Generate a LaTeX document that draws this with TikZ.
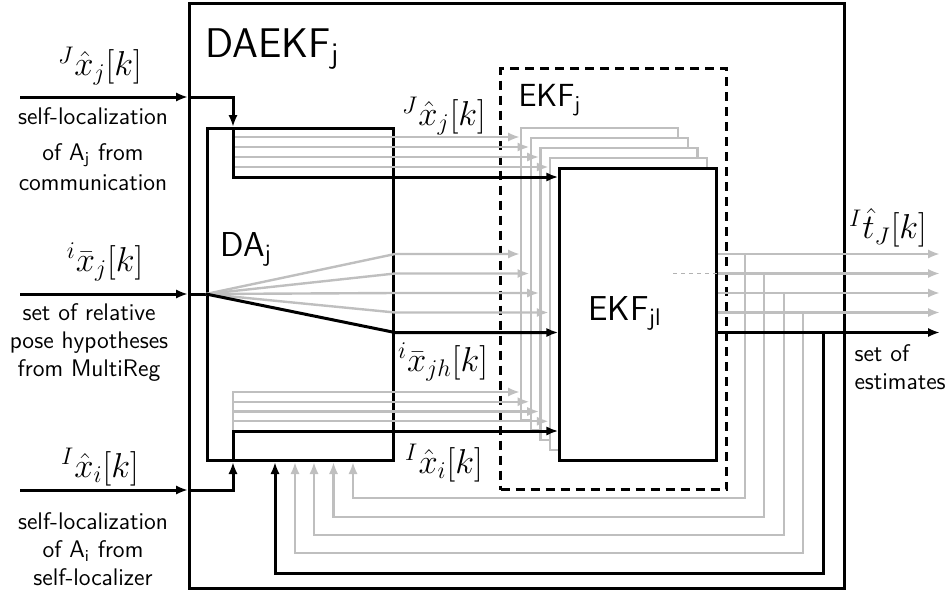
\documentclass[tikz,border=0pt]{standalone}
\usepackage{amsmath}
\usetikzlibrary{positioning, arrows.meta}
\begin{document}
\begin{tikzpicture}[>={Latex[length=6pt, width=4.6pt]}, x=0.5pt, y=-0.5pt, line width=1.5pt,
  blk/.style={draw, inner sep=0pt, anchor=north west},
  grey/.style={draw=black!25, line width=1.2pt},
  sig/.style={font=\LARGE, inner sep=0pt},
  txt/.style={font=\sffamily\large, align=center, inner sep=0pt}]
\useasboundingbox (0,0) rectangle (952,594);
% Kaesten: DAEKF_j, DA_j, EKF_j (gestrichelt), Stapel EKF_jl
\node[blk, minimum width=327.5pt, minimum height=292.5pt] (daekf) at (188,2) {};
\node[blk, minimum width=93pt, minimum height=166pt] (da) at (206,127) {};
\node[blk, dash pattern=on 4.5pt off 3pt, minimum width=113pt, minimum height=210.5pt] (ekfj) at (499,67) {};
\foreach \k in {0,...,3}
  \node[blk, grey, fill=white, minimum width=78.5pt, minimum height=146pt] (ekf\k) at ({520+9.6*\k},{127+10*\k}) {};
\node[blk, fill=white, minimum width=78.5pt, minimum height=146pt] (ekfjl) at (558.4,167) {};
\draw[black!30, line width=0.3pt, dash pattern=on 2pt off 2pt] (673,273) -- (ekfjl.east |- 0,273);
% Titel
\node[font=\sffamily\huge, anchor=base west, inner sep=0pt] (tdaekf) at (204,57) {DAEKF$_\mathsf{j}$};
\node[font=\sffamily\LARGE, anchor=base west, inner sep=0pt] (tda) at (219,256) {DA$_\mathsf{j}$};
\node[font=\sffamily\fontsize{16}{19}\selectfont, anchor=base west, inner sep=0pt] (tekfj) at (517,106) {EKF$_\mathsf{j}$};
\node[font=\sffamily\LARGE, anchor=base west, inner sep=0pt] (tekfjl) at (587,320) {EKF$_\mathsf{jl}$};
% Eingaenge
\coordinate (inJ) at (20,97);
\coordinate (inH) at (20,294);
\coordinate (inI) at (20,490);
\coordinate (tapJ) at (233,0 |- da.north);
\coordinate (tapI) at (233,0 |- da.south);
\coordinate (fan) at (da.west |- inH);
\coordinate (outE) at (940,0);
% Selbstlokalisierung A_j
\foreach \k in {0,...,3}
  \draw[grey, ->] (tapJ |- 0,{137+10*\k}) -- (ekf\k.west |- 0,{137+10*\k});
\draw[->] (inJ) -- (inJ -| daekf.west);
\draw[->] (inJ -| daekf.west) -| (tapJ);
\draw[->] (tapJ) |- (ekfjl.west |- 0,177);
% Posenhypothesen
\draw[->] (inH) -- (inH -| daekf.west);
\draw (inH -| daekf.west) -- (fan);
\foreach \k in {0,...,3}
  \draw[grey, ->] (fan) -- (da.east |- 0,{254+19.5*\k}) -- (ekf\k.west |- 0,{254+19.5*\k});
\draw[->] (fan) -- (da.east |- 0,332.5) -- (ekfjl.west |- 0,332.5);
% Selbstlokalisierung A_i
\foreach \k in {0,...,3}
  \draw[grey, ->] (tapI |- 0,431) |- (ekf\k.west |- 0,{392+9.75*\k});
\draw[->] (inI) -- (inI -| daekf.west);
\draw[->] (inI -| daekf.west) -| (tapI);
\draw[->] (tapI) |- (ekfjl.west |- 0,431);
% Ausgaenge und Rueckfuehrung
\foreach \k/\xd/\yb/\xr in {0/745/498/353, 1/764/517/333.5, 2/784/535/314, 3/803/553/295} {
  \draw[grey, ->] (ekfjl.east |- 0,{254+19.5*\k}) -- (outE |- 0,{254+19.5*\k});
  \draw[grey, ->] (\xd,{254+19.5*\k}) |- (\xr,\yb) -- (\xr,0 |- da.south);
}
\draw[->] (ekfjl.east |- 0,332.5) -- (outE |- 0,332.5);
\draw[->] (823,332.5) |- (275,573) -- (275,0 |- da.south);
% Signale
\node[sig] (lJ) at (100,66) {$^J\hat{x}_j[k]$};
\node[sig] (lH) at (105,262) {$^i\bar{x}_j[k]$};
\node[sig] (lI) at (100,467) {$^I\hat{x}_i[k]$};
\node[sig] (lJin) at (444,116) {$^J\hat{x}_j[k]$};
\node[sig] (lHin) at (443,362) {$^i\bar{x}_{jh}[k]$};
\node[sig] (lIin) at (444,463) {$^I\hat{x}_i[k]$};
\node[sig] (lt) at (888,228) {$^I\hat{t}_J[k]$};
% Beschriftungen
\node[txt, anchor=north] (dJ) at (93,106) {self-localization\\[4pt]of A$_\mathsf{j}$ from\\[1pt]communication};
\node[txt, anchor=north] (dH) at (89,302) {set of relative\\pose hypotheses\\from MultiReg};
\node[txt, anchor=north] (dI) at (93,511) {self-localization\\of A$_\mathsf{i}$ from\\self-localizer};
\node[txt, align=left, anchor=north west] (dout) at (853,343) {set of\\estimates};
\end{tikzpicture}
\end{document}
